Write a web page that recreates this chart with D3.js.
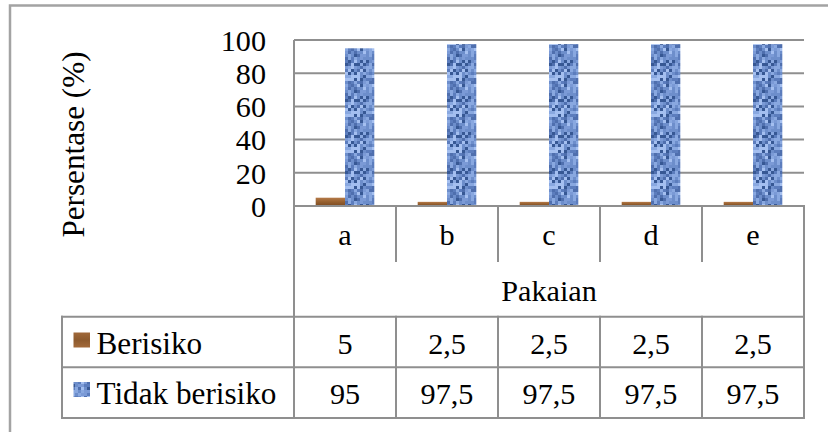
<!DOCTYPE html>
<html>
<head>
<meta charset="utf-8">
<script src="https://cdn.jsdelivr.net/npm/d3@7"></script>
<style>
html,body{margin:0;padding:0;background:#fff;}
svg{display:block;}
text{font-family:"Liberation Serif","DejaVu Serif","Noto Serif",serif;fill:#000;}
</style>
</head>
<body>
<svg id="chart" width="828" height="432"></svg>
<script>
const categories = ["a","b","c","d","e"];
const seriesNames = ["Berisiko","Tidak berisiko"];
const berisiko = [5,2.5,2.5,2.5,2.5];
const tidakBerisiko = [95,97.5,97.5,97.5,97.5];
const valueLabels = [["5","2,5","2,5","2,5","2,5"],["95","97,5","97,5","97,5","97,5"]];
const yTicks = [0,20,40,60,80,100];
const axisTitle = "Persentase (%)";
const categoryTitle = "Pakaian";

const series = [berisiko, tidakBerisiko];
const svg = d3.select("#chart");
const gridColor = "#8f8f8f";

// font scale: match the reference width of "Tidak berisiko" (~180px)
const probe = svg.append("text").attr("font-size",31).text("Tidak berisiko");
const k = 180 / probe.node().getComputedTextLength();
probe.remove();
const fs = v => v * k;

// defs: brown gradient + blue textured pattern
const defs = svg.append("defs");
const grad = defs.append("linearGradient").attr("id","brown").attr("x1",0).attr("y1",0).attr("x2",0).attr("y2",1);
grad.append("stop").attr("offset","0%").attr("stop-color","#b57a48");
grad.append("stop").attr("offset","50%").attr("stop-color","#96602f");
grad.append("stop").attr("offset","100%").attr("stop-color","#7a4a22");
const legGrad = defs.append("linearGradient").attr("id","brownLeg").attr("x1",0).attr("y1",0).attr("x2",0).attr("y2",1);
legGrad.append("stop").attr("offset","0%").attr("stop-color","#a0683a");
legGrad.append("stop").attr("offset","50%").attr("stop-color","#8d5a2e");
legGrad.append("stop").attr("offset","100%").attr("stop-color","#a36a3a");

const cell = 3, tileN = 12;
const pat = defs.append("pattern").attr("id","blueTex").attr("patternUnits","userSpaceOnUse")
  .attr("width",cell*tileN).attr("height",cell*tileN);
const texPalette = ["#6d8ecb","#89a8e0","#4f6fae","#a4bff0","#375894","#7b9ad6","#5c7dbd"];
const cells = [];
for (let i=0;i<tileN;i++) for (let j=0;j<tileN;j++) {
  const h = Math.abs(Math.sin(i*12.9898 + j*78.233) * 43758.5453) % 1;
  cells.push({i, j, c: texPalette[Math.floor(h*texPalette.length)]});
}
pat.selectAll("rect").data(cells).join("rect")
  .attr("x",d=>d.i*cell).attr("y",d=>d.j*cell).attr("width",cell).attr("height",cell).attr("fill",d=>d.c);
const fills = ["url(#brown)","url(#blueTex)"];
const legendFills = ["url(#brownLeg)","url(#blueTex)"];

// outer frame
svg.append("path").attr("d","M10,440 V5.5 H840").attr("fill","none").attr("stroke","#a3a3a3").attr("stroke-width",2.5);

// scales
const x0 = d3.scaleBand().domain(categories).range([294,804]).paddingInner(0).paddingOuter(0);
const x1 = d3.scaleBand().domain(seriesNames).range([0,x0.bandwidth()]).paddingInner(0).paddingOuter(0.74);
const y = d3.scaleLinear().domain([0,100]).range([206,40]);

// gridlines
svg.append("g").selectAll("line").data(yTicks.filter(t=>t>0)).join("line")
  .attr("x1",x0.range()[0]).attr("x2",x0.range()[1])
  .attr("y1",d=>y(d)).attr("y2",d=>y(d))
  .attr("stroke",gridColor).attr("stroke-width",2);

// bars
const groups = svg.append("g").selectAll("g").data(categories).join("g")
  .attr("transform",d=>`translate(${x0(d)},0)`);
groups.selectAll("rect").data((c,ci)=>seriesNames.map((s,si)=>({s,si,v:series[si][ci]}))).join("rect")
  .attr("x",d=>x1(d.s)).attr("width",x1.bandwidth())
  .attr("y",d=>y(d.v)).attr("height",d=>y(0)-y(d.v))
  .attr("fill",d=>fills[d.si]);

// y axis
const yAxis = d3.axisLeft(y).tickValues(yTicks).tickSize(0).tickPadding(28);
const ga = svg.append("g").attr("transform",`translate(${x0.range()[0]},0)`).call(yAxis);
ga.attr("font-family",null);
ga.select(".domain").remove();
ga.selectAll("text").attr("font-size",fs(30)).attr("fill","#000").attr("dy","0.34em");
// plot left edge
svg.append("line").attr("x1",294).attr("x2",294).attr("y1",y(100)).attr("y2",206).attr("stroke",gridColor).attr("stroke-width",2);

// axis title
svg.append("text").attr("transform",`translate(84,${144.5}) rotate(-90)`)
  .attr("text-anchor","middle").attr("font-size",fs(31)).text(axisTitle);

// data table
const T = {top:206, catBottom:261, titleBottom:316.7, row1Bottom:367.3, row2Bottom:418, legLeft:62};
const L = [];
const [xl, xr] = x0.range();
L.push([xl, T.top, xr, T.top]);
L.push([xl, T.top, xl, T.row2Bottom]);
L.push([xr, T.top, xr, T.row2Bottom]);
categories.slice(1).forEach(c=>{ L.push([x0(c),T.top,x0(c),T.catBottom]); L.push([x0(c),T.titleBottom,x0(c),T.row2Bottom]); });
L.push([T.legLeft, T.titleBottom, xr, T.titleBottom]);
L.push([T.legLeft, T.row1Bottom, xr, T.row1Bottom]);
L.push([T.legLeft, T.row2Bottom, xr, T.row2Bottom]);
L.push([T.legLeft, T.titleBottom, T.legLeft, T.row2Bottom]);
svg.append("g").selectAll("line").data(L).join("line")
  .attr("x1",d=>d[0]).attr("y1",d=>d[1]).attr("x2",d=>d[2]).attr("y2",d=>d[3])
  .attr("stroke",gridColor).attr("stroke-width",2).attr("stroke-linecap","square");

// category labels
svg.append("g").selectAll("text").data(categories).join("text")
  .attr("x",d=>x0(d)+x0.bandwidth()/2).attr("y",245).attr("text-anchor","middle").attr("font-size",fs(30)).text(d=>d);
svg.append("text").attr("x",(xl+xr)/2).attr("y",301).attr("text-anchor","middle").attr("font-size",fs(30)).text(categoryTitle);

// values
const rowBase = [354, 403.5];
seriesNames.forEach((s,si)=>{
  svg.append("g").selectAll("text").data(categories).join("text")
    .attr("x",d=>x0(d)+x0.bandwidth()/2).attr("y",rowBase[si]).attr("text-anchor","middle").attr("font-size",fs(30))
    .text((d,i)=>valueLabels[si][i]);
  svg.append("rect").attr("x",73.5).attr("y",rowBase[si]-21.5).attr("width",16.5).attr("height",15).attr("fill",legendFills[si]);
  svg.append("text").attr("x",96.5).attr("y",rowBase[si]).attr("font-size",fs(31)).text(s);
});
</script>
</body>
</html>
